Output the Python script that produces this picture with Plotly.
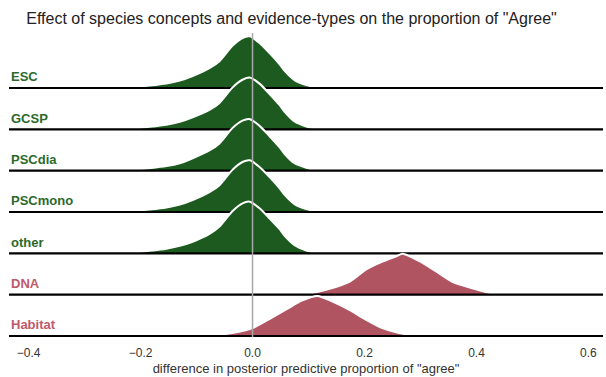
import plotly.graph_objects as go

# Rows from top to bottom
categories = ["ESC", "GCSP", "PSCdia", "PSCmono", "other", "DNA", "Habitat"]
group_colors = ["#1d5a1f"] * 5 + ["#b05462"] * 2
label_colors = ["#2b6a2b"] * 5 + ["#c0596a"] * 2

# Posterior predictive difference grid (x) and density height (in row units)
esc_x = [-0.235, -0.214, -0.184, -0.154, -0.130, -0.107, -0.077, -0.059, -0.036,
         -0.018, -0.005, 0.0125, 0.030, 0.048, 0.057, 0.075, 0.096, 0.111, 0.122]
esc_y = [0.0, 0.02, 0.06, 0.11, 0.18, 0.29, 0.48, 0.65, 1.02,
         1.21, 1.25, 1.09, 0.85, 0.58, 0.42, 0.19, 0.07, 0.02, 0.0]

gcsp_x = [-0.235, -0.214, -0.184, -0.154, -0.130, -0.107, -0.077, -0.059, -0.036,
          -0.018, -0.004, 0.013, 0.030, 0.048, 0.057, 0.075, 0.096, 0.111, 0.122]
gcsp_y = [0.0, 0.02, 0.06, 0.11, 0.18, 0.29, 0.47, 0.64, 1.01,
          1.20, 1.25, 1.10, 0.86, 0.59, 0.43, 0.19, 0.07, 0.02, 0.0]

pscdia_x = [-0.235, -0.214, -0.184, -0.154, -0.130, -0.107, -0.077, -0.059, -0.036,
            -0.018, -0.006, 0.012, 0.030, 0.048, 0.057, 0.075, 0.096, 0.111, 0.122]
pscdia_y = [0.0, 0.02, 0.06, 0.11, 0.18, 0.30, 0.49, 0.66, 1.03,
            1.21, 1.25, 1.09, 0.84, 0.57, 0.41, 0.18, 0.07, 0.02, 0.0]

pscmono_x = [-0.235, -0.214, -0.184, -0.154, -0.130, -0.107, -0.077, -0.059, -0.036,
             -0.018, -0.005, 0.0125, 0.030, 0.048, 0.057, 0.075, 0.096, 0.111, 0.122]
pscmono_y = [0.0, 0.02, 0.06, 0.11, 0.18, 0.29, 0.48, 0.65, 1.02,
             1.21, 1.25, 1.09, 0.85, 0.58, 0.42, 0.19, 0.07, 0.02, 0.0]

other_x = [-0.235, -0.214, -0.184, -0.154, -0.130, -0.107, -0.077, -0.059, -0.036,
           -0.018, -0.005, 0.0125, 0.030, 0.048, 0.057, 0.075, 0.096, 0.111, 0.122]
other_y = [0.0, 0.02, 0.06, 0.11, 0.18, 0.28, 0.47, 0.65, 1.02,
           1.21, 1.25, 1.09, 0.85, 0.59, 0.43, 0.20, 0.07, 0.02, 0.0]

dna_x = [0.096, 0.1375, 0.173, 0.203, 0.232, 0.257, 0.268, 0.298, 0.328,
         0.357, 0.388, 0.418, 0.441]
dna_y = [0.0, 0.14, 0.31, 0.61, 0.80, 0.93, 0.99, 0.81, 0.56,
         0.31, 0.17, 0.06, 0.0]

habitat_x = [-0.077, -0.036, 0.0, 0.030, 0.061, 0.089, 0.116, 0.143, 0.173,
             0.203, 0.232, 0.262, 0.293]
habitat_y = [0.0, 0.07, 0.19, 0.41, 0.65, 0.86, 0.97, 0.83, 0.63,
             0.39, 0.19, 0.07, 0.0]

curves_x = [esc_x, gcsp_x, pscdia_x, pscmono_x, other_x, dna_x, habitat_x]
curves_y = [esc_y, gcsp_y, pscdia_y, pscmono_y, other_y, dna_y, habitat_y]

x_ticks = [-0.4, -0.2, 0.0, 0.2, 0.4, 0.6]
x_range = [-0.435, 0.626]

FONT = "Liberation Sans, Arial, sans-serif"
n = len(categories)
fig = go.Figure()

for i, (name, xs, ys) in enumerate(zip(categories, curves_x, curves_y)):
    offset = n - 1 - i
    fig.add_trace(go.Scatter(
        x=xs, y=[v + offset for v in ys],
        mode="lines", fill="toself", fillcolor=group_colors[i],
        line=dict(color="white", width=2, shape="spline", smoothing=0.7),
        hoverinfo="skip", showlegend=False,
    ))
    fig.add_trace(go.Scatter(
        x=x_range, y=[offset, offset], mode="lines",
        line=dict(color="black", width=2.2),
        hoverinfo="skip", showlegend=False,
    ))
    fig.add_annotation(
        x=0.0, xref="paper", xanchor="left",
        y=offset + 0.27, yref="y", yanchor="middle",
        text=f"<b>{name}</b>", showarrow=False,
        font=dict(family=FONT, size=13, color=label_colors[i]),
    )

# Reference line at zero difference
fig.add_shape(type="line", x0=0, x1=0, y0=-0.03, y1=n - 1 + 1.33,
              xref="x", yref="y", layer="above",
              line=dict(color="#a8a8a8", width=1.5))

fig.update_layout(
    width=606, height=377,
    margin=dict(l=9, r=3, t=30, b=37),
    plot_bgcolor="white", paper_bgcolor="white",
    title=dict(
        text='Effect of species concepts and evidence-types on the proportion of "Agree"',
        x=0.481, xref="container", xanchor="center",
        y=0.952, yref="container", yanchor="middle",
        font=dict(family=FONT, size=16, color="#222222"),
    ),
    xaxis=dict(
        range=x_range, tickvals=x_ticks, tickformat=".1f",
        showgrid=False, zeroline=False, showline=False, ticks="",
        ticklabelstandoff=4,
        tickfont=dict(family=FONT, size=12, color="#333333"),
        title=dict(text='difference in posterior predictive proportion of "agree"',
                   standoff=4,
                   font=dict(family=FONT, size=13, color="#333333")),
    ),
    yaxis=dict(
        range=[-0.097, 7.404], showgrid=False, zeroline=False,
        showticklabels=False, showline=False, ticks="",
    ),
)

fig.write_html("out.html")
